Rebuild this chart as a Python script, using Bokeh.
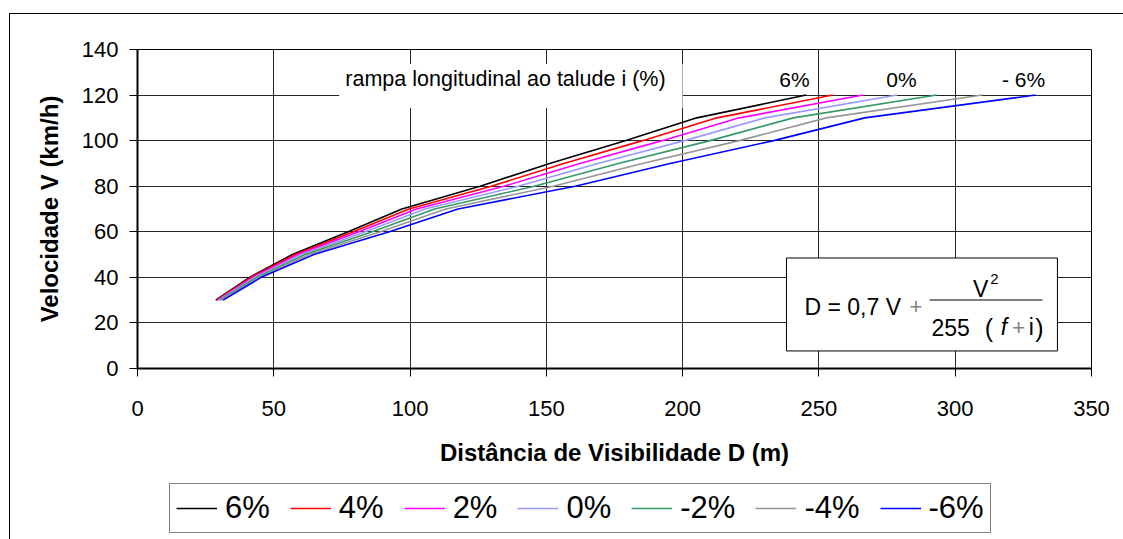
from bokeh.plotting import figure
from bokeh.layouts import column
from bokeh.models import Range1d, Legend, LegendItem, Label, BoxAnnotation
from bokeh.embed import file_html
from bokeh.resources import INLINE

# Velocidade de projeto (km/h) e distância de visibilidade (m) por rampa
speeds = [30, 40, 50, 60, 70, 80, 90, 100, 110, 120]
grade_labels = ["6%", "4%", "2%", "0%", "-2%", "-4%", "-6%"]
dist_p6 = [28.7, 41.1, 56.8, 77.3, 97.0, 125.7, 151.2, 178.9, 205.2, 245.3]
dist_p4 = [29.0, 41.6, 57.8, 79.2, 99.6, 129.8, 156.4, 185.3, 212.6, 255.1]
dist_p2 = [29.4, 42.3, 58.9, 81.2, 102.4, 134.4, 162.3, 192.5, 220.8, 266.2]
dist_00 = [29.8, 42.9, 60.1, 83.5, 105.5, 139.7, 168.9, 200.7, 230.1, 278.7]
dist_m2 = [30.3, 43.7, 61.5, 86.1, 109.0, 145.6, 176.4, 210.1, 240.6, 293.2]
dist_m4 = [30.8, 44.5, 63.0, 89.1, 113.1, 152.5, 185.2, 220.8, 252.7, 309.9]
dist_m6 = [31.4, 45.4, 64.7, 92.4, 117.6, 160.6, 195.4, 233.4, 266.8, 329.5]
series = [dist_p6, dist_p4, dist_p2, dist_00, dist_m2, dist_m4, dist_m6]
colors = ["#000000", "#FF0000", "#FF00FF", "#9999FF", "#339966", "#969696", "#0000FF"]

x_ticks = [0, 50, 100, 150, 200, 250, 300, 350]
y_ticks = [0, 20, 40, 60, 80, 100, 120, 140]

FONT = "Liberation Sans"
LINE_W = 1.6

p = figure(
    width=1123, height=480,
    x_range=Range1d(0, 350), y_range=Range1d(0, 140),
    output_backend="svg", toolbar_location=None,
    min_border_left=137, min_border_right=32,
    min_border_top=49, min_border_bottom=112,
)
p.border_fill_alpha = 0
p.background_fill_color = "white"
p.outline_line_color = "black"
p.outline_line_width = 1
# outer chart-area frame (left and top edges)
p.styles = {
    "background-color": "white",
    "background-image": "linear-gradient(#000,#000), linear-gradient(#000,#000)",
    "background-size": "1px calc(100% - 13px), calc(100% - 9px) 1px",
    "background-position": "9px 13px, 9px 13px",
    "background-repeat": "no-repeat",
}

for ax in (p.xaxis[0], p.yaxis[0]):
    ax.axis_line_color = "black"
    ax.axis_line_width = 2
    ax.major_tick_line_color = "black"
    ax.major_tick_in = 0
    ax.major_tick_out = 8
    ax.minor_tick_line_color = None
    ax.major_label_text_font = FONT
    ax.major_label_text_font_size = "22px"
    ax.major_label_text_color = "black"
    ax.axis_label_text_font = FONT
    ax.axis_label_text_font_size = "24px"
    ax.axis_label_text_font_style = "bold"
    ax.axis_label_text_color = "black"

p.xaxis.ticker = x_ticks
p.yaxis.ticker = y_ticks
p.xaxis.axis_label = "Distância de Visibilidade D (m)"
p.yaxis.axis_label = "Velocidade V (km/h)"
p.xaxis.major_label_standoff = 24
p.xaxis.axis_label_standoff = 20
p.yaxis.major_label_standoff = 11
p.yaxis.axis_label_standoff = 16

p.xgrid.ticker = x_ticks
p.ygrid.ticker = y_ticks
for g in (p.xgrid[0], p.ygrid[0]):
    g.grid_line_color = "black"
    g.grid_line_width = 1
    g.grid_line_alpha = 0.85

for dist, color in zip(series, colors):
    p.line(dist, speeds, line_color=color, line_width=LINE_W)

# caption for the grade labels, on a white patch over the grid
p.add_layout(BoxAnnotation(left=74, right=200, bottom=114.3, top=133.6,
                           fill_color="white", fill_alpha=1, line_color=None))


def text(x, y, s, size="21px", align="center", baseline="middle",
         style="normal", color="black"):
    p.add_layout(Label(x=x, y=y, text=s, text_font=FONT, text_font_size=size,
                       text_align=align, text_baseline=baseline,
                       text_font_style=style, text_color=color))


text(135.0, 127.0, "rampa longitudinal ao talude i (%)", size="21.5px")
text(241.0, 127.0, "6%")
text(280.3, 127.0, "0%")
text(325.1, 127.0, "- 6%")

# formula box
p.add_layout(BoxAnnotation(left=238.1, right=337.5, bottom=7.7, top=48.5,
                           fill_color="white", fill_alpha=1,
                           line_color="black", line_alpha=1, line_width=1))
text(244.7, 27.0, "D = 0,7 V", size="23px", align="left", baseline="alphabetic")
text(285.6, 27.0, "+", size="22px", baseline="alphabetic", color="#808080")
text(309.3, 34.75, "V", size="23px", baseline="alphabetic")
text(314.4, 39.3, "2", size="15px", baseline="alphabetic")
p.add_layout(BoxAnnotation(left=290.6, right=332.0, bottom=29.85, top=30.3,
                           fill_color="black", fill_alpha=1, line_color=None))
text(298.3, 18.2, "255", size="23px", baseline="alphabetic")
text(312.4, 17.8, "(", size="25px", baseline="alphabetic")
text(317.9, 18.2, "f", size="23px", baseline="alphabetic", style="italic")
text(323.3, 18.2, "+", size="22px", baseline="alphabetic", color="#808080")
text(327.9, 18.2, "i", size="23px", baseline="alphabetic")
text(330.9, 17.8, ")", size="25px", baseline="alphabetic")

# legend strip below the chart; its series sit outside the visible range
q = figure(
    width=1123, height=59,
    x_range=Range1d(1000, 1001), y_range=Range1d(0, 140),
    output_backend="svg", toolbar_location=None,
    min_border=0, min_border_left=0, min_border_right=0,
    min_border_top=0, min_border_bottom=0,
    x_axis_type=None, y_axis_type=None,
)
q.grid.visible = False
q.outline_line_color = None
q.background_fill_alpha = 0
q.border_fill_alpha = 0
q.styles = {
    "background-color": "white",
    "background-image": "linear-gradient(#000,#000)",
    "background-size": "1px 100%",
    "background-position": "9px 0px",
    "background-repeat": "no-repeat",
}

items = []
for label, dist, color in zip(grade_labels, series, colors):
    r = q.line(dist, speeds, line_color=color, line_width=LINE_W)
    items.append(LegendItem(label=label, renderers=[r]))

legend = Legend(
    items=items, orientation="horizontal", location=(32, 6),
    label_text_font=FONT, label_text_font_size="31px", label_text_color="black",
    glyph_width=41, glyph_height=20, label_standoff=8, spacing=20,
    padding=6, margin=0,
    border_line_color="black", border_line_width=1,
    background_fill_color="white",
)
q.add_layout(legend)

layout = column(p, q, spacing=0)
open("out.html", "w").write(file_html(layout, INLINE))
